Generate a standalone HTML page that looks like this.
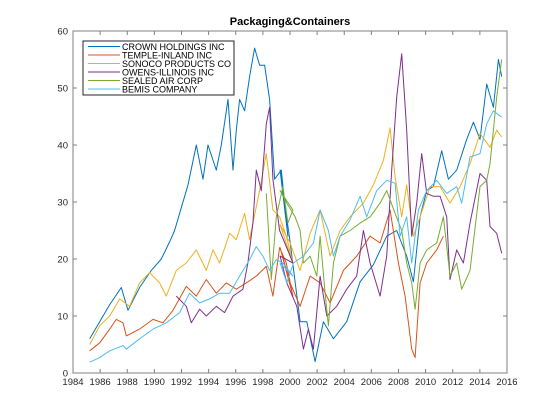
<!DOCTYPE html>
<html><head><meta charset="utf-8"><style>
body{margin:0;background:#fff;}
svg{display:block;font-family:"Liberation Sans",Arial,sans-serif;}
</style></head><body>
<svg id="chart" width="560" height="420" viewBox="0 0 560 420" xmlns="http://www.w3.org/2000/svg">
<rect x="0" y="0" width="560" height="420" fill="#fff"/>
<text x="290" y="25" text-anchor="middle" font-size="11" font-weight="bold">Packaging&amp;Containers</text>
<g id="series"></g>
<g id="axes"></g>
<g id="legend"></g>
</svg>
<script>
const xTicks=[1984,1986,1988,1990,1992,1994,1996,1998,2000,2002,2004,2006,2008,2010,2012,2014,2016];
const yTicks=[0,10,20,30,40,50,60];
const seriesNames=["CROWN HOLDINGS INC","TEMPLE-INLAND INC","SONOCO PRODUCTS CO","OWENS-ILLINOIS INC","SEALED AIR CORP","BEMIS COMPANY"];
const seriesColors=["#0072BD","#D95319","#EDB120","#7E2F8E","#77AC30","#4DBEEE"];
// zoom x-positions converted to years: year = base + xz/40.7
const crownX=[50,80,110,145,165,200,235,265,290,305,325,345,370,390,405,430,445,465,480,490,500,515,530,545,560,575,590,605,625,645];
const crownV=[6,9,12,15,11,15,18,20,23,25,29,33,40,34,40,35.6,40,48,35.6,42.6,48,46,52,57,54,54,48,34,35.6,24];
const crownX2=[0,30,60,80,105,130,160,200,240,280,320,350,380,400,420,440,460,485,505,530,560,580,600,620,640,655,665];
const crownV2=[35.6,23,9,9,2,9,6,9,16,19,24,25,20.5,16,27.4,32,32.7,39,34,35.6,41,44,41,50.7,46.6,55,52];
const templeX=[50,80,110,130,150,160,200,240,270,300,340,370,400,430,460,490,520,550,580,600,620,640,660];
const templeV=[3.9,5.3,7.7,9.4,8.8,6.5,7.7,9.4,8.8,11,15.2,13.5,16.4,14,15.8,14.7,15.8,17,18.7,13.5,22,19.3,13.5];
const templeX2=[0,30,60,90,120,150,190,230,270,300,330,355,375,395,405,420,440,470,490];
const templeV2=[22,15.8,11.7,17,15.8,12.3,18,20.5,24,22.8,28.6,19.3,13.5,4.2,2.7,15.8,19.3,21.6,24];
const sonocoX=[50,80,110,140,170,200,230,260,280,310,340,370,400,420,440,470,490,515,530,560,580,600,620,640,660];
const sonocoV=[5,8.3,10,13,11.7,15.8,17.6,15.8,13.5,18,19.3,21.6,18,21.6,19.3,24.5,23.4,28,23.4,32,38.5,28.6,27.4,24,19.3];
const sonocoX2=[0,30,60,90,120,150,180,210,250,280,310,330,345,365,380,400,420,450,480,510,540,570,600,630,650,665];
const sonocoV2=[26,22.8,18,24.5,28.6,20.5,25,27.4,29.8,33,37.3,43,34.4,27.4,33,24,27.4,32.7,32.7,29.8,32.7,36.7,42,39.6,42.6,41.4];
const owensX=[310,340,355,380,400,430,455,480,510,525,540,550,565,580,590,600,620,640,660];
const owensV=[13.5,11.7,8.8,11.2,10,11.7,10.6,13.5,14.7,19.3,26.3,35.6,32,43.7,46.6,34,25,22.2,19.3];
const owensX2=[0,20,50,70,85,100,120,140,170,200,230,250,270,300,320,335,350,365,380,395,410,425,440,460,480,500,510,530,550,570,600,620,630,650,665];
const owensV2=[20.5,15.8,11.7,4.2,7.7,4.2,17,10,11.7,14.7,17,25,19.3,13.5,20.5,35.6,48.4,56,42.6,24,29.8,38.5,31.5,31,31,27.4,16.4,21.6,19.3,26.3,35,33.8,25.7,24.5,21];
const sealedX=[580,595,610,630,645,660];
const sealedV=[31.5,16.4,27.4,32.7,26.3,28.6];
const sealedX2=[0,20,45,60,70,90,110,120,135,145,160,180,210,240,270,300,320,345,365,380,395,405,420,440,470,490,510,530,545,570,600,620,630,650,665];
const sealedV2=[32,29.8,27.4,25,19.3,20.5,17,24,14,8.3,19.3,24,25,26.3,27.4,29.8,32,28,25,19.3,15.8,11.2,19.3,21.6,22.8,27.4,17,19.3,14.7,18,32.7,33.8,36.7,48.4,55];
const bemisX=[50,80,110,150,160,200,240,280,320,350,380,410,440,470,500,530,550,570,590,610,630,660];
const bemisV=[1.9,2.7,3.9,4.8,4.2,6,7.7,8.8,10.6,14,12.3,13,14,14,17,19.9,22.2,20.5,18,19.9,19.3,17];
const bemisX2=[0,20,40,70,100,120,145,160,180,210,240,260,290,320,345,360,380,395,415,440,470,500,530,545,570,600,620,640,665];
const bemisV2=[19.3,15.8,19.3,20.5,22.8,28.6,25,20.5,24,26.9,31,27.4,32,33.8,33.3,24,27.4,19.3,28.6,32,33.8,31.5,32.7,29.8,37.9,38.5,43.7,46,44.9];

const NS="http://www.w3.org/2000/svg";
const L=73,R=507,T=31,B=373;
const xS=yr=>L+(yr-1984)*(R-L)/32;
const yS=v=>B-v*(B-T)/60;
const toYears=(a,base)=>a.map(x=>base+x/40.7);
const seriesData=[
 [toYears(crownX,1984).concat(toYears(crownX2,1999.27)),crownV.concat(crownV2)],
 [toYears(templeX,1984).concat(toYears(templeX2,1999.27)),templeV.concat(templeV2)],
 [toYears(sonocoX,1984).concat(toYears(sonocoX2,1999.27)),sonocoV.concat(sonocoV2)],
 [toYears(owensX,1984).concat(toYears(owensX2,1999.27)),owensV.concat(owensV2)],
 [toYears(sealedX,1984).concat(toYears(sealedX2,1999.27)),sealedV.concat(sealedV2)],
 [toYears(bemisX,1984).concat(toYears(bemisX2,1999.27)),bemisV.concat(bemisV2)]
];
const sg=document.getElementById('series');
const slugs=["crown","temple-inland","sonoco","owens-illinois","sealed-air","bemis"];
seriesData.forEach((s,i)=>{
 const p=document.createElementNS(NS,'polyline');
 p.setAttribute('points',s[0].map((yr,j)=>xS(yr).toFixed(1)+','+yS(s[1][j]).toFixed(1)).join(' '));
 p.setAttribute('fill','none');p.setAttribute('stroke',seriesColors[i]);p.setAttribute('stroke-width','1');
 p.setAttribute('stroke-linejoin','round');
 
 
 sg.appendChild(p);
});
const ax=document.getElementById('axes');
function mk(tag,attrs){const e=document.createElementNS(NS,tag);for(const k in attrs)e.setAttribute(k,attrs[k]);return e;}
const box=mk('rect',{x:L,y:T,width:R-L,height:B-T,fill:'none',stroke:'#808080','stroke-width':1});


ax.appendChild(box);
xTicks.forEach(t=>{
 const x=xS(t);
 const a=mk('line',{x1:x,y1:B,x2:x,y2:B-4,stroke:'#808080'});
 
 
 ax.appendChild(a);
 const b=mk('line',{x1:x,y1:T,x2:x,y2:T+4,stroke:'#808080'});
 
 
 ax.appendChild(b);
 const tx=mk('text',{x:x,y:B+12,'text-anchor':'middle','font-size':9.5,fill:'#262626'});
 tx.textContent=t;
 
 
 ax.appendChild(tx);
});
yTicks.forEach(t=>{
 const y=yS(t);
 const a=mk('line',{x1:L,y1:y,x2:L+4,y2:y,stroke:'#808080'});
 
 
 ax.appendChild(a);
 const b=mk('line',{x1:R,y1:y,x2:R-4,y2:y,stroke:'#808080'});
 
 
 ax.appendChild(b);
 const tx=mk('text',{x:L-5,y:y+3.5,'text-anchor':'end','font-size':9.5,fill:'#262626'});
 tx.textContent=t;
 
 
 ax.appendChild(tx);
});
const lg=document.getElementById('legend');
const lb=mk('rect',{x:83,y:41,width:151,height:54,fill:'#fff',stroke:'#262626','stroke-width':1});


lg.appendChild(lb);
seriesNames.forEach((n,i)=>{
 const y=46.5+i*8.5;
 const ln=mk('line',{x1:88,y1:y,x2:120,y2:y,stroke:seriesColors[i],'stroke-width':1});
 
 
 lg.appendChild(ln);
 const tx=mk('text',{x:122,y:y+3.3,'font-size':9,fill:'#000'});
 tx.textContent=n;
 
 
 lg.appendChild(tx);
});
</script>
</body></html>
